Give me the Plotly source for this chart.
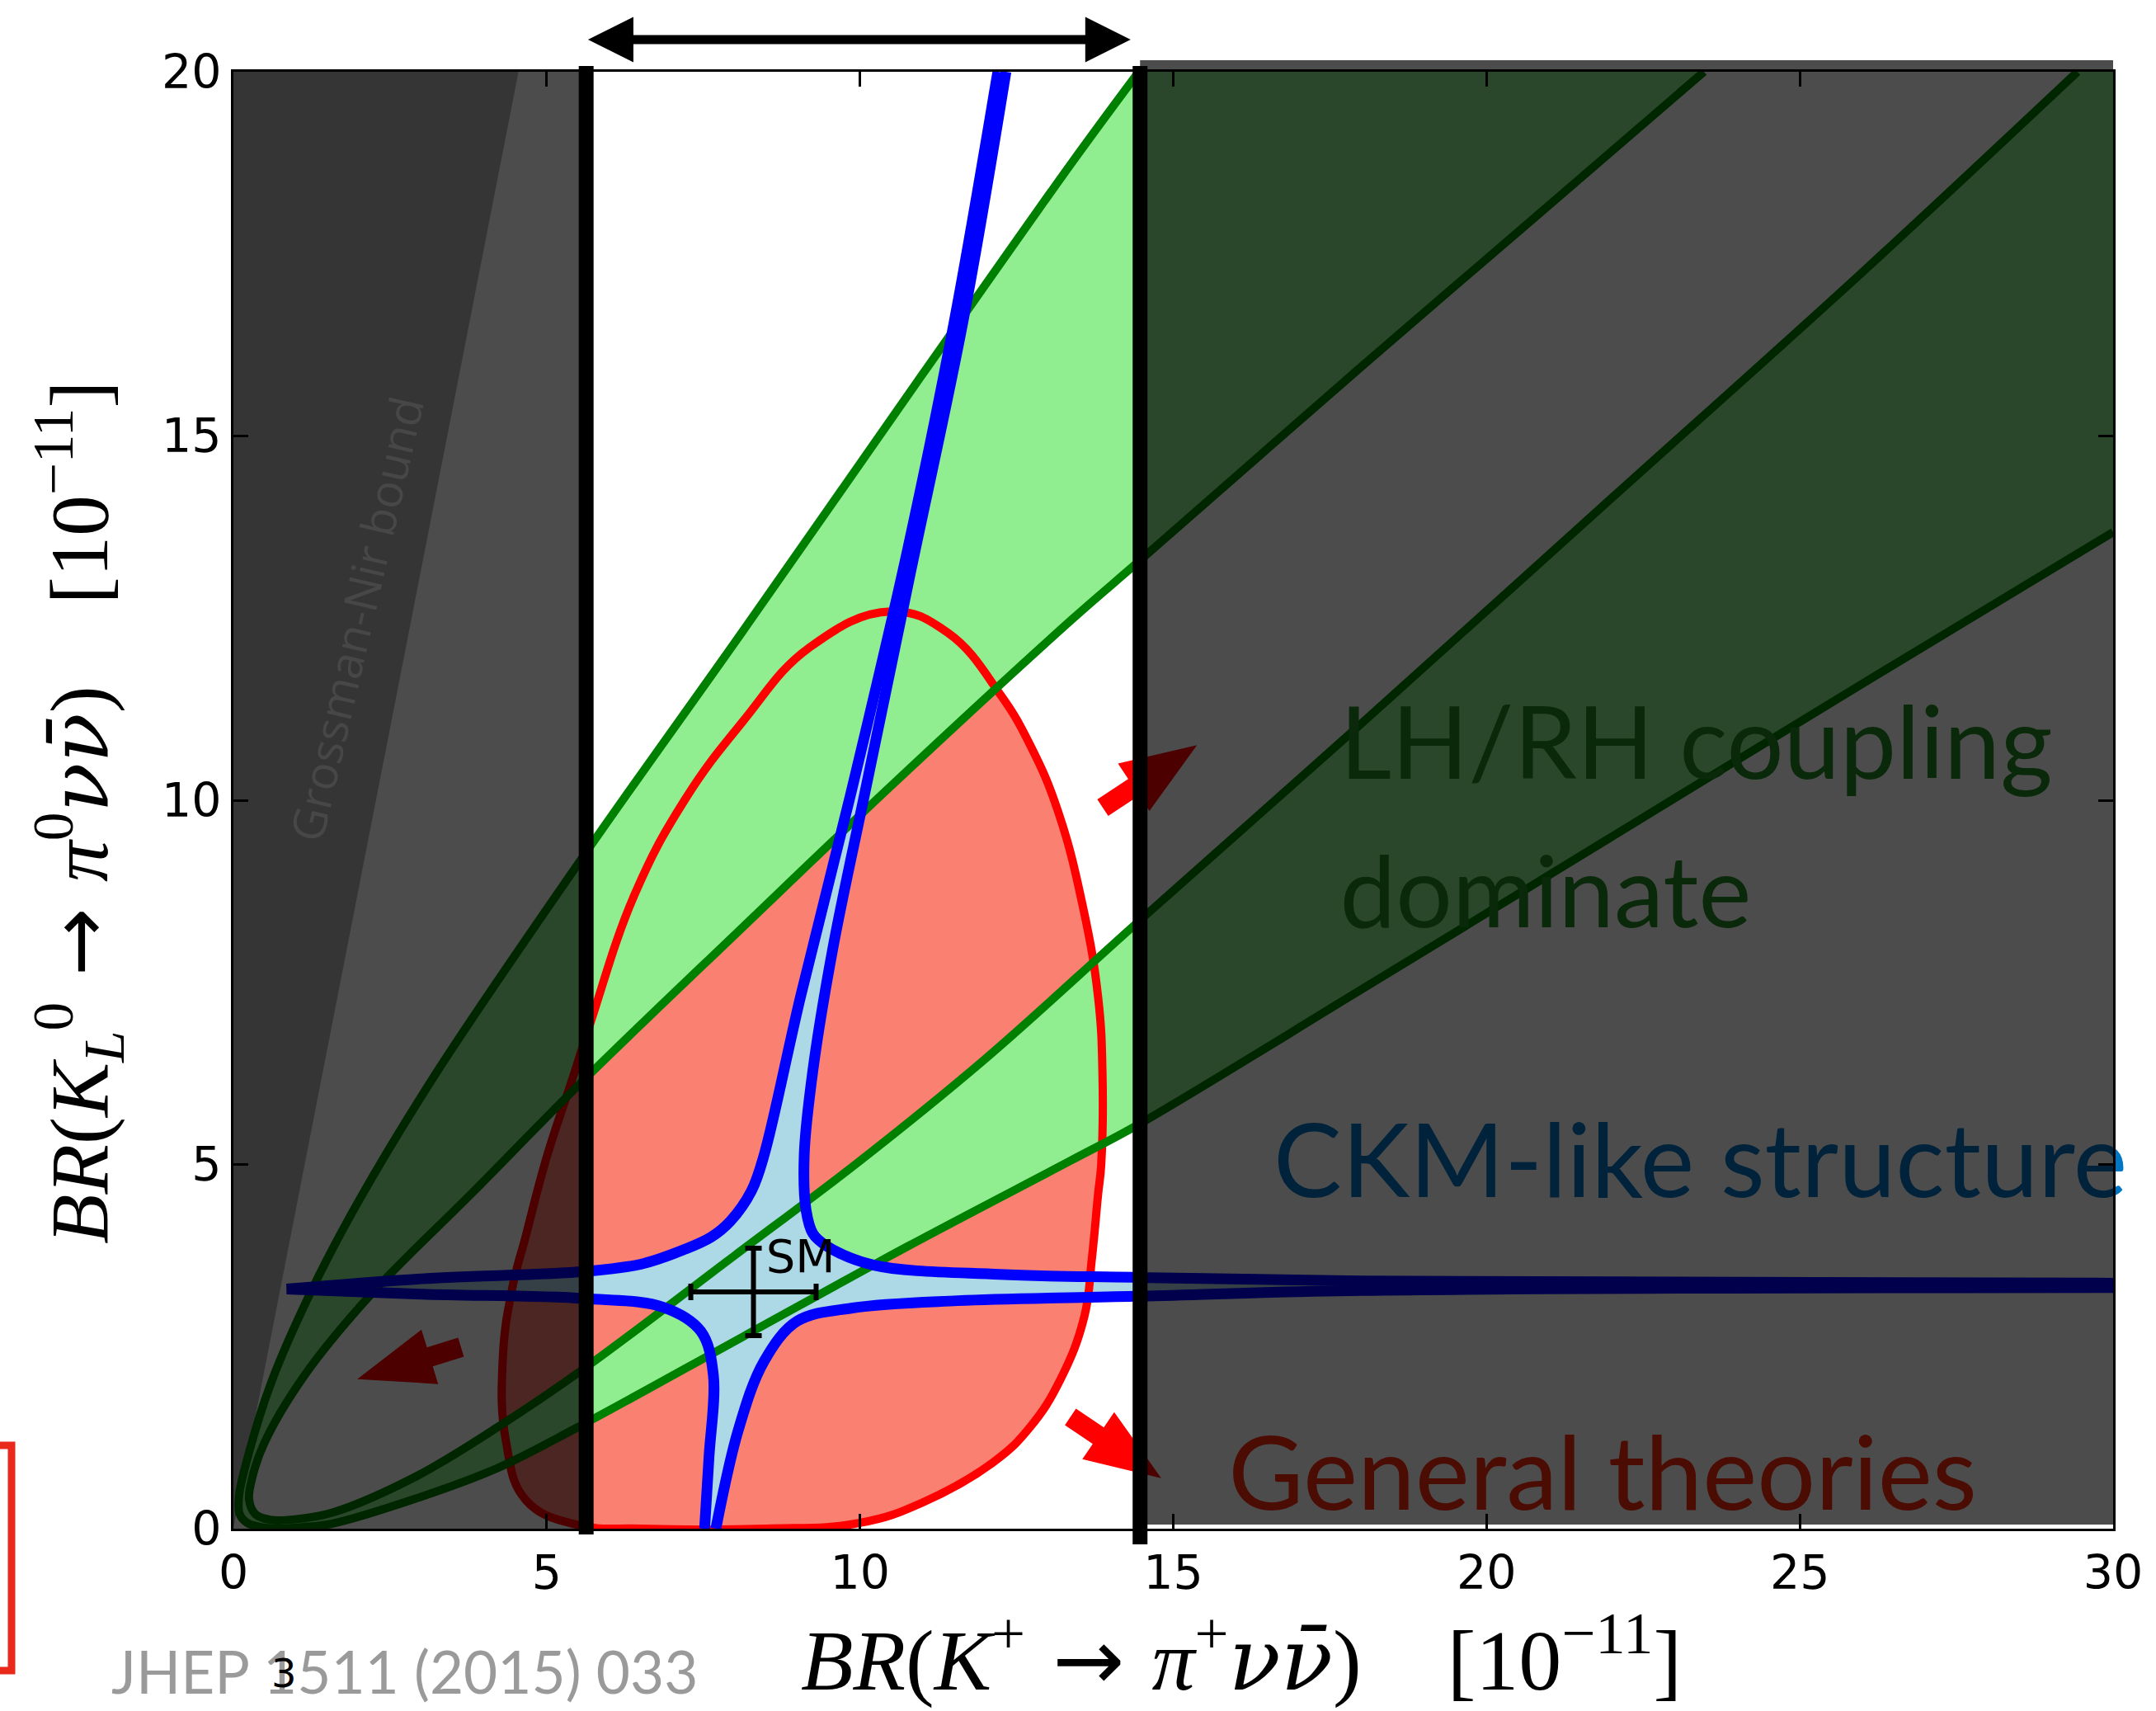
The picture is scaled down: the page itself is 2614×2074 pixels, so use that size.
import plotly.graph_objects as go

# ---------------- data ----------------
X_TICKS = [0, 5, 10, 15, 20, 25, 30]
Y_TICKS = [0, 5, 10, 15, 20]

# Grossman-Nir excluded wedge
GN_X = [0.0, 4.55, 0.0]
GN_Y = [0.0, 20.0, 20.0]

# LH/RH green curves (A = outer envelope, B = inner loop)
A_X = [14.45, 13.38, 11.0, 8.12, 5.6, 3.24, 2.0, 1.23, 0.6, 0.25, 0.09, 0.1, 0.22, 0.45,
       0.75, 1.1, 1.58, 2.9, 4.21, 5.49, 8.12, 10.75, 13.38, 14.45, 18.0, 22.0, 26.0, 30.0]
A_Y = [20.0, 18.75, 15.85, 12.31, 9.25, 6.26, 4.5, 3.24, 2.0, 1.05, 0.45, 0.2, 0.08, 0.02,
       0.0, 0.02, 0.07, 0.41, 0.83, 1.39, 2.63, 3.87, 5.06, 5.55, 7.4, 9.5, 11.6, 13.68]
B_X = [23.47, 20.5, 18.0, 14.48, 13.38, 10.5, 8.12, 5.51, 3.8, 2.22, 1.14, 0.49, 0.3, 0.25,
       0.35, 0.6, 1.0, 1.58, 2.9, 4.21, 5.6, 8.0, 10.0, 12.0, 14.4, 18.0, 22.0, 26.0, 29.43]
B_Y = [20.0, 17.8, 15.95, 13.3, 12.48, 10.2, 8.25, 6.09, 4.6, 3.24, 2.11, 1.17, 0.7, 0.4,
       0.2, 0.12, 0.13, 0.22, 0.71, 1.39, 2.2, 3.75, 5.05, 6.45, 8.3, 11.05, 14.15, 17.25, 20.0]

# General theories (red region)
R_X = [8.5, 6.5, 5.5, 4.67, 4.35, 4.3, 4.45, 4.67, 5.0, 5.42, 5.7, 6.4, 7.2, 8.12, 9.2, 10.49,
       11.4, 12.24, 12.72, 13.16, 13.56, 13.8, 13.87, 13.85, 13.8, 13.7, 13.58, 13.2, 12.72,
       12.14, 11.0, 10.0, 8.5]
R_Y = [0.0, 0.0, 0.05, 0.39, 1.2, 2.35, 3.3, 4.03, 5.1, 6.2, 6.95, 8.7, 10.0, 11.07, 12.1, 12.59,
       12.3, 11.45, 10.75, 9.85, 8.53, 7.3, 6.26, 5.0, 4.59, 3.7, 2.91, 2.05, 1.4,
       0.92, 0.36, 0.08, 0.0]

# CKM-like structure (blue), four branches
UL_X = [0.85, 3.0, 5.6, 6.5, 7.19, 7.62, 7.93, 8.27, 8.47, 9.05, 9.87, 10.75, 11.5, 12.2]
UL_Y = [3.29, 3.43, 3.53, 3.63, 3.83, 4.0, 4.22, 4.64, 5.13, 7.3, 10.15, 13.4, 16.55, 20.0]
UR_X = [12.33, 11.65, 10.8, 10.09, 9.57, 9.25, 9.11, 9.14, 9.25, 9.47, 10.21, 12.23, 14.38, 18.0, 30.0]
UR_Y = [20.0, 16.6, 13.1, 10.15, 7.98, 6.3, 5.13, 4.37, 4.05, 3.88, 3.62, 3.49, 3.45, 3.40, 3.37]
LR_X = [30.0, 18.0, 14.38, 11.56, 9.88, 9.0, 8.47, 8.06, 7.70]
LR_Y = [3.31, 3.27, 3.19, 3.13, 3.03, 2.85, 2.30, 1.36, 0.0]
LL_X = [7.52, 7.59, 7.66, 7.46, 6.86, 5.6, 3.0, 0.85]
LL_Y = [0.0, 0.98, 2.11, 2.71, 3.04, 3.16, 3.22, 3.29]

# Standard Model point
SM_X, SM_Y = 8.3, 3.25
SM_ERR_X, SM_ERR_Y = 1.0, 0.6

# experimental window (vertical black lines)
WINDOW = [5.63, 14.47]

# ---------------- layout geometry ----------------
W, H = 2614, 2074
ML, MR, MT, MB = 283, 52, 87, 221
PW, PH = W - ML - MR, H - MT - MB
SX, SY = PW / 30.0, PH / 20.0


def paper_x(px):
    return (px - ML) / PW


def paper_y(py):
    return (H - MB - py) / PH


def block_arrow(tail, tip, shaft_w=24, head_w=69, head_len=92):
    tx, ty = tail[0] * SX, tail[1] * SY
    hx, hy = tip[0] * SX, tip[1] * SY
    dx, dy = hx - tx, hy - ty
    L = (dx * dx + dy * dy) ** 0.5
    ux, uy = dx / L, dy / L
    nx, ny = -uy, ux
    bx, by = hx - ux * head_len, hy - uy * head_len
    pts = [(tx + nx * shaft_w / 2, ty + ny * shaft_w / 2),
           (bx + nx * shaft_w / 2, by + ny * shaft_w / 2),
           (bx + nx * head_w / 2, by + ny * head_w / 2),
           (hx, hy),
           (bx - nx * head_w / 2, by - ny * head_w / 2),
           (bx - nx * shaft_w / 2, by - ny * shaft_w / 2),
           (tx - nx * shaft_w / 2, ty - ny * shaft_w / 2)]
    return [p[0] / SX for p in pts], [p[1] / SY for p in pts]


ARROWS = [((3.632, 2.491), (1.977, 2.053)),
          ((13.875, 9.898), (15.378, 10.755)),
          ((13.359, 1.535), (14.807, 0.694))]

fig = go.Figure()


def add(tr):
    tr.update(hoverinfo="skip", showlegend=False)
    fig.add_trace(tr)


# fills
add(go.Scatter(x=GN_X, y=GN_Y, mode="lines", fill="toself", fillcolor="#b3b3b3", line=dict(width=0)))
add(go.Scatter(x=R_X, y=R_Y, mode="lines", fill="toself", fillcolor="#fa8072",
               line=dict(width=0, shape="spline", smoothing=1.2)))
gx = A_X + [30.0] + B_X[::-1]
gy = A_Y + [20.0] + B_Y[::-1]
add(go.Scatter(x=gx, y=gy, mode="lines", fill="toself", fillcolor="#90ee90", line=dict(width=0)))
bx = UL_X + UR_X + LR_X + LL_X
by = UL_Y + UR_Y + LR_Y + LL_Y
add(go.Scatter(x=bx, y=by, mode="lines", fill="toself", fillcolor="#add8e6", line=dict(width=0)))

# outlines
add(go.Scatter(x=R_X, y=R_Y, mode="lines", line=dict(color="#ff0000", width=10, shape="spline", smoothing=1.2)))
for cx, cy in [(A_X, A_Y), (B_X, B_Y)]:
    add(go.Scatter(x=cx, y=cy, mode="lines", line=dict(color="#008000", width=10, shape="spline", smoothing=1.0)))
for cx, cy in [(UL_X, UL_Y), (UR_X, UR_Y), (LR_X, LR_Y), (LL_X, LL_Y)]:
    add(go.Scatter(x=cx, y=cy, mode="lines", line=dict(color="#0000ff", width=13, shape="spline", smoothing=1.0)))

# SM point
add(go.Scatter(x=[SM_X], y=[SM_Y], mode="markers", marker=dict(size=1, color="rgba(0,0,0,0)"),
               error_x=dict(type="constant", value=SM_ERR_X, color="black", thickness=6, width=10),
               error_y=dict(type="constant", value=SM_ERR_Y, color="black", thickness=6, width=10)))
add(go.Scatter(x=[8.5], y=[3.68], mode="text", text=["SM"], textposition="middle right",
               textfont=dict(family="DejaVu Sans", size=56, color="black"), cliponaxis=False))

# region labels (under the grey veil)
LABELS = [(17.66, 10.64, "LH/RH coupling", "#228b22", 122),
          (17.66, 8.6, "dominate", "#228b22", 121),
          (16.6, 4.9, "CKM-like structure", "#0077c5", 124),
          (15.88, 0.62, "General theories", "#fc280d", 125)]
for lx, ly, lt, lc, ls in LABELS:
    add(go.Scatter(x=[lx], y=[ly], mode="text", text=[lt], textposition="middle right",
                   textfont=dict(family="Lato", size=ls, color=lc), cliponaxis=False))

# red block arrows
for tail, tip in ARROWS:
    ax_, ay_ = block_arrow(tail, tip)
    add(go.Scatter(x=ax_, y=ay_, mode="lines", fill="toself", fillcolor="#ff0000", line=dict(width=0)))

shapes = [
    dict(type="rect", xref="x", yref="y", x0=0, x1=WINDOW[0], y0=0, y1=20,
         fillcolor="rgba(0,0,0,0.7)", line=dict(width=0), layer="above"),
    dict(type="rect", xref="x", yref="paper", x0=WINDOW[1], x1=30, y0=paper_y(1848), y1=paper_y(73),
         fillcolor="rgba(0,0,0,0.7)", line=dict(width=0), layer="above"),
    dict(type="line", xref="x", yref="paper", x0=WINDOW[0], x1=WINDOW[0], y0=paper_y(1860), y1=paper_y(80),
         line=dict(color="black", width=18), layer="above"),
    dict(type="line", xref="x", yref="paper", x0=WINDOW[1], x1=WINDOW[1], y0=paper_y(1872), y1=paper_y(80),
         line=dict(color="black", width=18), layer="above"),
    dict(type="rect", xref="paper", yref="paper", x0=paper_x(-20), x1=paper_x(14), y0=paper_y(2025), y1=paper_y(1752),
         line=dict(color="#e8291c", width=9), fillcolor="rgba(0,0,0,0)", layer="above"),
]

serif = "Liberation Serif, Times New Roman, DejaVu Serif, serif"
arrow = '<span style="font-family:DejaVu Sans">\u00a0→\u00a0</span>'
nunubar = '<span style="font-family:DejaVu Serif">νν\u0304</span>'
x_title = ("<i>BR</i>(<i>K</i><sup>+</sup>" + arrow + "<i>π</i><sup>+</sup><i>" + nunubar + "</i>)"
           "\u00a0\u00a0\u00a0\u00a0[10<sup>−11</sup>]")
y_title = ("<i>BR</i>(<i>K</i><sub><i>L</i></sub><sup>0</sup>" + arrow + "<i>π</i><sup>0</sup><i>" + nunubar + "</i>)"
           "\u00a0\u00a0\u00a0\u00a0[10<sup>−11</sup>]")

annotations = [
    dict(x=1.95, y=12.49, xref="x", yref="y", text="Grossman-Nir bound", textangle=-77, showarrow=False,
         font=dict(family="Open Sans", size=56, color="#474747")),
    dict(x=paper_x(1505), y=paper_y(2006), xref="paper", yref="paper", text=x_title, showarrow=False,
         xanchor="center", yanchor="middle", font=dict(family=serif, size=104, color="black")),
    dict(x=paper_x(95), y=paper_y(985), xref="paper", yref="paper", text=y_title, showarrow=False,
         textangle=-90, xanchor="center", yanchor="middle", font=dict(family=serif, size=99, color="black")),
    dict(x=paper_x(133), y=paper_y(2025), xref="paper", yref="paper", text="JHEP 1511 (2015) 033",
         showarrow=False, xanchor="left", yanchor="middle", font=dict(family="Lato", size=71, color="#9a9a9a")),
    dict(x=paper_x(344), y=paper_y(2028), xref="paper", yref="paper", text="3", showarrow=False,
         xanchor="center", yanchor="middle", font=dict(family="DejaVu Sans", size=48, color="black")),
    dict(x=14.32, y=paper_y(48), xref="x", yref="paper", ax=5.64, ay=0, axref="x", ayref="pixel",
         text="", showarrow=True, arrowhead=2, startarrowhead=2, arrowside="end+start",
         arrowsize=1, startarrowsize=1, arrowwidth=11, arrowcolor="black"),
]

axis_common = dict(ticks="inside", ticklen=18, tickwidth=3, tickcolor="black", showline=True,
                   linecolor="black", linewidth=3, mirror="allticks", showgrid=False, zeroline=False,
                   tickfont=dict(family="DejaVu Sans", size=57, color="black"), fixedrange=True)

fig.update_layout(
    width=W, height=H, margin=dict(l=ML, r=MR, t=MT, b=MB, pad=0),
    plot_bgcolor="white", paper_bgcolor="white", showlegend=False,
    xaxis=dict(range=[0, 30], tickvals=X_TICKS, ticklabelstandoff=2, **axis_common),
    yaxis=dict(range=[0, 20], tickvals=Y_TICKS, ticklabelstandoff=0, **axis_common),
    shapes=shapes, annotations=annotations,
)

fig.write_html("out.html")
